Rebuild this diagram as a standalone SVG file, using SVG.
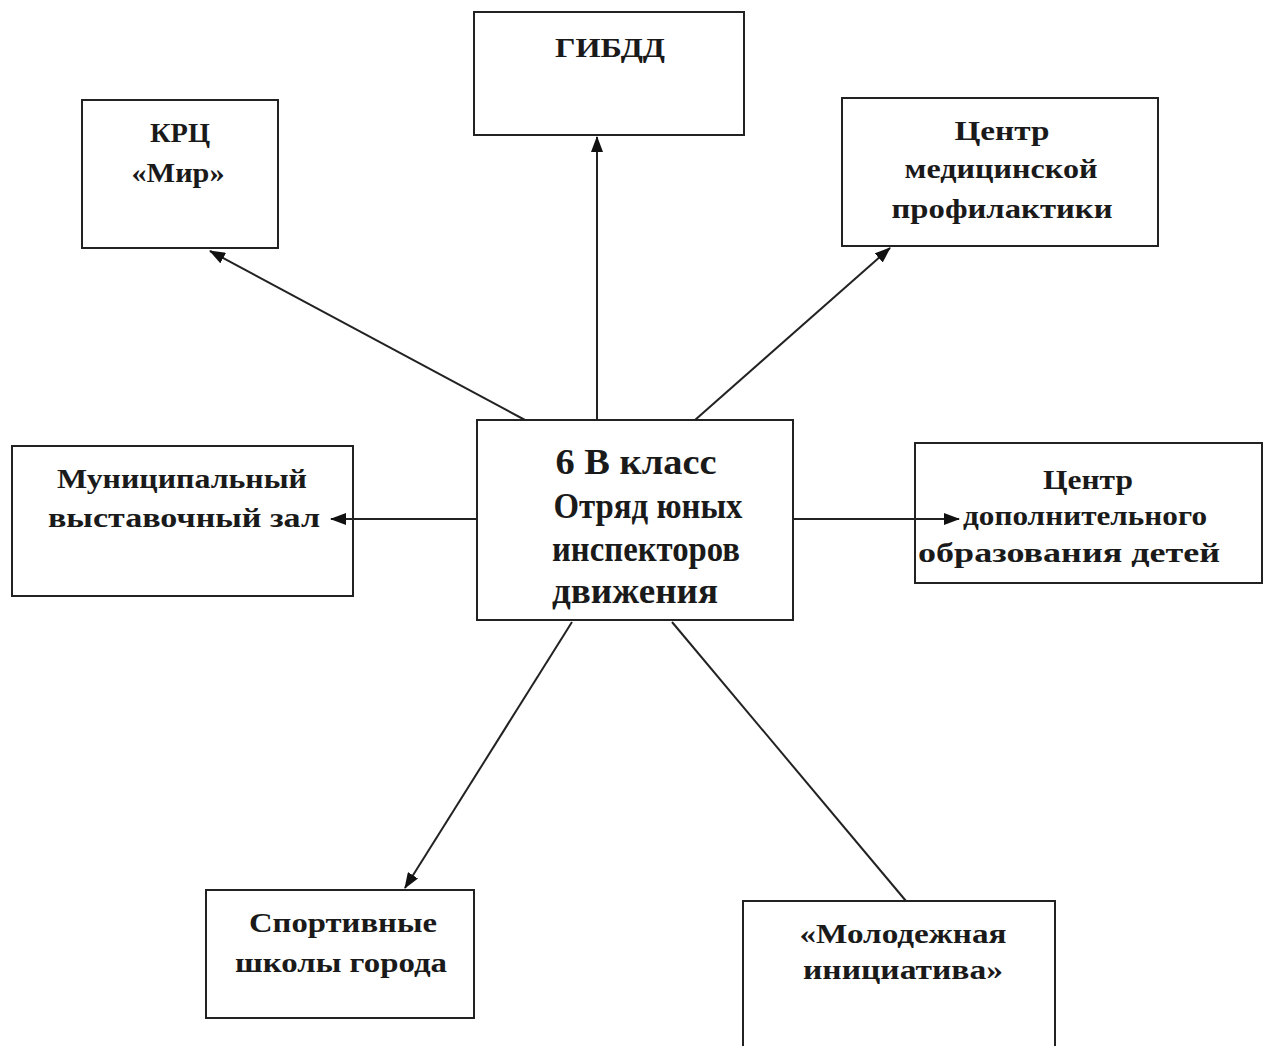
<svg xmlns="http://www.w3.org/2000/svg" width="1265" height="1046" viewBox="0 0 1265 1046">
<style>
.box{fill:#fff;stroke:#222;stroke-width:2}
.t{font-family:"Liberation Serif","Times New Roman",serif;font-weight:bold;font-size:28px;fill:#1a1a1a;text-anchor:middle}
.tc{font-size:36px}
.c{stroke:#222;stroke-width:2;fill:none}
</style>
<defs>
<marker id="ah" markerWidth="16" markerHeight="12" refX="15" refY="6" orient="auto" markerUnits="userSpaceOnUse">
<path d="M0,0 L16,6 L0,12 z" fill="#111"/>
</marker>
</defs>
<rect width="1265" height="1046" fill="#fff"/>
<g id="gibdd">
<rect class="box" x="474" y="12" width="270" height="123"/>
<text class="t" x="610" y="57" textLength="110" lengthAdjust="spacingAndGlyphs">ГИБДД</text>
</g>
<g id="krc">
<rect class="box" x="82" y="100" width="196" height="148"/>
<text class="t" x="180" y="142" textLength="60" lengthAdjust="spacingAndGlyphs">КРЦ</text>
<text class="t" x="178" y="182" textLength="93" lengthAdjust="spacingAndGlyphs">«Мир»</text>
</g>
<g id="med">
<rect class="box" x="842" y="98" width="316" height="148"/>
<text class="t" x="1002" y="140" textLength="95" lengthAdjust="spacingAndGlyphs">Центр</text>
<text class="t" x="1001" y="178" textLength="193" lengthAdjust="spacingAndGlyphs">медицинской</text>
<text class="t" x="1002" y="218" textLength="221" lengthAdjust="spacingAndGlyphs">профилактики</text>
</g>
<g id="center">
<rect class="box" x="477" y="420" width="316" height="200"/>
<text class="t tc" x="636" y="474" textLength="161" lengthAdjust="spacingAndGlyphs">6 В класс</text>
<text class="t tc" x="648" y="518" textLength="189" lengthAdjust="spacingAndGlyphs">Отряд юных</text>
<text class="t tc" x="646" y="561" textLength="188" lengthAdjust="spacingAndGlyphs">инспекторов</text>
<text class="t tc" x="635" y="603" textLength="166" lengthAdjust="spacingAndGlyphs">движения</text>
</g>
<g id="muni">
<rect class="box" x="12" y="446" width="341" height="150"/>
<text class="t" x="182" y="488" textLength="250" lengthAdjust="spacingAndGlyphs">Муниципальный</text>
<text class="t" x="184" y="527" textLength="272" lengthAdjust="spacingAndGlyphs">выставочный зал</text>
</g>
<g id="dop">
<rect class="box" x="915" y="443" width="347" height="140"/>
<text class="t" x="1088" y="489" textLength="90" lengthAdjust="spacingAndGlyphs">Центр</text>
<text class="t" x="1085" y="525" textLength="244" lengthAdjust="spacingAndGlyphs">дополнительного</text>
<text class="t" x="1069" y="562" textLength="302" lengthAdjust="spacingAndGlyphs">образования детей</text>
</g>
<g id="sport">
<rect class="box" x="206" y="890" width="268" height="128"/>
<text class="t" x="343" y="932" textLength="188" lengthAdjust="spacingAndGlyphs">Спортивные</text>
<text class="t" x="341" y="972" textLength="212" lengthAdjust="spacingAndGlyphs">школы города</text>
</g>
<g id="molod">
<rect class="box" x="743" y="901" width="312" height="160"/>
<text class="t" x="903" y="943" textLength="207" lengthAdjust="spacingAndGlyphs">«Молодежная</text>
<text class="t" x="903" y="979" textLength="200" lengthAdjust="spacingAndGlyphs">инициатива»</text>
</g>
<g id="connectors">
<line class="c" x1="597" y1="420" x2="597" y2="137" marker-end="url(#ah)"/>
<line class="c" x1="525" y1="420" x2="210" y2="251" marker-end="url(#ah)"/>
<line class="c" x1="695" y1="420" x2="890" y2="248" marker-end="url(#ah)"/>
<line class="c" x1="476" y1="519" x2="331" y2="519" marker-end="url(#ah)"/>
<line class="c" x1="793" y1="519" x2="959" y2="519" marker-end="url(#ah)"/>
<line class="c" x1="572" y1="622" x2="405" y2="888" marker-end="url(#ah)"/>
<line class="c" x1="672" y1="622" x2="906" y2="901"/>
</g>
</svg>
